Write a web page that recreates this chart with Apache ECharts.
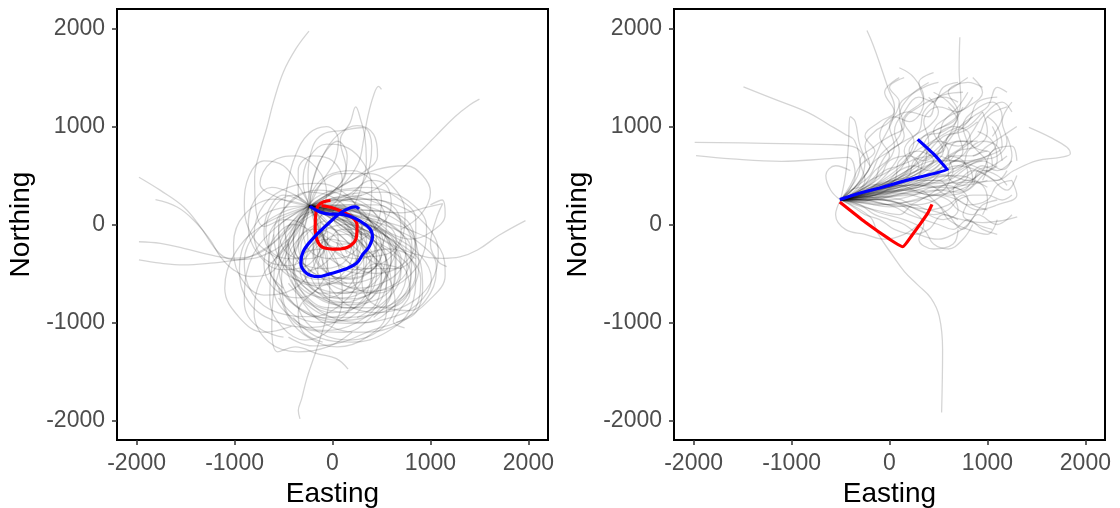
<!DOCTYPE html>
<html><head><meta charset="utf-8">
<script src="https://cdn.jsdelivr.net/npm/echarts@6/dist/echarts.min.js"></script>
<style>html,body{margin:0;padding:0;background:#fff}#c{width:1120px;height:508px}</style>
</head><body><div id="c"></div>
<script>
// ---------- data ----------
const tickValues = [-2000, -1000, 0, 1000, 2000];
const axisMin = -2200, axisMax = 2200;
const xTitle = 'Easting', yTitle = 'Northing';

// Left panel: grey tracks (Easting, Northing)
const leftTracks = [
 [[-230,190],[100,90],[400,-20],[620,-200],[700,-480],[560,-760],[250,-900],[-100,-860],[-380,-650],[-480,-350],[-380,-60],[-150,120],[150,160]],
 [[-230,190],[150,110],[450,0],[650,-250],[640,-560],[420,-780],[80,-820],[-240,-680],[-400,-400],[-330,-120],[-80,40]],
 [[-230,190],[-520,120],[-780,-80],[-900,-380],[-820,-700],[-560,-900],[-220,-940],[80,-820],[250,-560],[260,-260],[120,-20]],
 [[-230,190],[-120,420],[20,640],[60,860],[-60,1000],[-240,930],[-380,700],[-460,400],[-500,80],[-440,-240],[-280,-460]],
 [[-230,190],[180,310],[520,330],[800,220],[960,-20],[920,-320],[720,-580],[420,-680],[120,-620],[-80,-420],[-140,-160],[20,60]],
 [[-230,190],[-300,-90],[-400,-400],[-290,-720],[20,-960],[320,-1000],[620,-840],[800,-540],[810,-210],[660,80],[400,240],[110,300]],
 [[-230,190],[40,360],[300,520],[460,700],[420,920],[250,1010],[60,920],[-100,700],[-200,440],[-260,200]],
 [[-230,190],[-600,260],[-900,100],[-1010,-200],[-950,-520],[-700,-720],[-400,-660],[-200,-440],[-110,-190],[-40,20]],
 [[-230,190],[200,60],[600,-110],[900,-320],[1010,-560],[860,-820],[560,-960],[200,-1010],[-150,-960],[-420,-800],[-600,-560]],
 [[-230,190],[-480,80],[-700,-20],[-790,250],[-795,480],[-740,750],[-670,990],[-600,1260],[-500,1560],[-370,1800],[-240,1975]],
 [[-230,190],[0,330],[140,560],[80,860],[180,1040],[237,1200],[290,1060],[330,900],[346,650],[300,400],[200,150]],
 [[-230,190],[80,380],[260,620],[320,880],[360,1100],[420,1320],[470,1410],[500,1380]],
 [[-230,190],[100,240],[400,340],[620,500],[850,700],[1050,900],[1250,1100],[1400,1220],[1500,1280]],
 [[-230,190],[100,60],[420,-100],[700,-250],[950,-330],[1120,-345],[1300,-330],[1480,-260],[1700,-110],[1970,40]],
 [[-230,190],[-420,20],[-600,-180],[-841,-328],[-976,-362],[-1112,-328],[-1214,-226],[-1349,-24],[-1519,179],[-1756,348],[-1976,483]],
 [[-230,190],[-400,-80],[-637,-497],[-841,-531],[-1010,-463],[-1146,-328],[-1247,-159],[-1417,44],[-1587,179],[-1807,253]],
 [[-230,190],[-500,-100],[-841,-328],[-1044,-345],[-1247,-311],[-1519,-243],[-1756,-193],[-1976,-176]],
 [[-230,190],[-450,-150],[-739,-328],[-976,-362],[-1247,-395],[-1519,-412],[-1756,-395],[-1976,-362]],
 [[-230,190],[-100,-200],[-27,-700],[-61,-936],[-129,-1173],[-197,-1376],[-264,-1578],[-315,-1781],[-349,-1900],[-332,-1984]],
 [[-230,190],[-450,-250],[-600,-700],[-620,-1050],[-560,-1300],[-380,-1250],[-150,-1320],[40,-1370],[159,-1477]],
 [[-230,190],[300,-100],[700,-400],[790,-700],[690,-870],[620,-990],[736,-1055]],
 [[-230,190],[300,150],[700,120],[980,180],[1125,213],[1060,60],[1000,-200],[1080,-380],[1166,-429]],
 [[-230,190],[-50,200],[250,120],[500,-60],[600,-350],[480,-640],[180,-760],[-140,-700],[-330,-480],[-320,-200],[-150,0]],
 [[-230,190],[-380,0],[-560,-300],[-600,-650],[-420,-950],[-100,-1080],[250,-1000],[500,-760],[560,-440],[420,-160],[150,-20]],
 [[-230,190],[200,200],[560,100],[820,-120],[880,-450],[720,-760],[420,-920],[60,-950],[-260,-820],[-420,-560]],
 [[-230,190],[-150,380],[80,520],[380,520],[620,380],[740,120],[700,-180],[500,-400],[220,-460],[-40,-340]],
 [[-230,190],[-420,320],[-620,380],[-800,240],[-860,-20],[-760,-300],[-520,-460],[-260,-420],[-100,-220]],
 [[-230,190],[20,-60],[300,-300],[560,-520],[640,-820],[480,-1080],[180,-1180],[-140,-1100],[-340,-880],[-380,-600]],
 [[-230,190],[-100,-120],[60,-420],[100,-760],[-20,-1060],[-280,-1180],[-520,-1040],[-640,-760],[-620,-440],[-460,-200]],
 [[-230,190],[250,80],[620,-40],[900,-200],[1060,-420],[1000,-700],[780,-880],[560,-860]],
 [[-230,190],[-300,420],[-240,680],[-60,820],[160,780],[320,620],[400,380],[380,120],[240,-100]],
 [[-230,190],[-520,260],[-740,420],[-620,640],[-380,700],[-150,560],[-60,320],[-120,80]],
 [[-230,190],[150,150],[480,140],[760,40],[840,-200],[700,-420],[440,-500],[180,-400],[40,-180]],
 [[-230,190],[-350,-200],[-520,-520],[-480,-860],[-220,-1080],[120,-1100],[420,-920],[620,-640],[640,-320],[480,-60]],
 [[-230,190],[100,100],[300,-150],[320,-480],[150,-700],[-120,-700],[-280,-500],[-240,-250],[-60,-80]],
 [[-230,190],[400,60],[800,-60],[1100,-250],[1150,-520],[980,-780],[700,-980],[400,-1080],[100,-1200],[-200,-1240],[-450,-1150]],
 [[-230,190],[-700,0],[-1000,-300],[-1100,-650],[-950,-950],[-700,-1100],[-420,-1040]],
 [[-230,190],[-250,500],[-200,800],[-95,923],[100,960],[312,990],[400,800],[350,500],[200,300]],
 [[-230,190],[100,400],[450,560],[750,600],[920,500],[1000,330],[900,100],[700,-50]],
 [[-230,190],[-600,-50],[-850,-400],[-900,-800],[-760,-1050],[-500,-1150]],
 [[-230,190],[50,20],[350,-200],[450,-500],[300,-800],[0,-900],[-250,-800],[-450,-600]],
 [[-230,190],[-100,0],[150,-100],[350,-300],[400,-600],[250,-900],[-50,-1000],[-350,-950],[-550,-750]],
 [[-230,190],[-80,60],[60,-150],[-60,-380],[-300,-480],[-520,-380],[-600,-100],[-480,180],[-250,330],[0,280],[200,100],[300,-150],[220,-420]],
 [[-230,190],[120,180],[380,40],[520,-200],[420,-450],[180,-560],[-80,-480],[-200,-260],[-80,-60],[160,0],[380,-120],[560,-380],[600,-700],[420,-950]],
 [[-230,190],[-120,20],[-200,-250],[-450,-420],[-700,-350],[-800,-100],[-700,200],[-450,380],[-150,420],[150,300],[300,80]],
 [[-230,190],[250,260],[650,200],[950,0],[1080,-280],[1000,-600],[760,-820],[450,-900],[150,-820],[-60,-600]],
 [[-230,190],[-30,100],[200,-60],[250,-330],[100,-560],[-200,-620],[-450,-500],[-550,-260],[-420,20]],
 [[-230,190],[80,170],[350,80],[600,-100],[760,-380],[700,-700],[450,-900],[100,-980],[-250,-900],[-500,-700],[-650,-400],[-600,-100]],
 [[-230,190],[-400,300],[-580,200],[-680,-50],[-600,-350],[-380,-560],[-80,-600],[150,-450],[220,-200],[100,50]],
 [[-230,190],[60,260],[380,260],[650,150],[700,-100],[560,-300],[300,-330],[60,-200]],
 [[-230,190],[-100,120],[100,-20],[350,-250],[550,-550],[550,-900],[350,-1150],[50,-1250],[-250,-1150],[-450,-950],[-550,-650]],
 [[-230,190],[-350,100],[-480,-120],[-420,-400],[-150,-560],[150,-540],[380,-380],[450,-120],[300,120],[50,200]],
 [[-230,190],[200,100],[500,-80],[750,-300],[900,-550],[850,-850],[600,-1050],[250,-1100],[-100,-1000],[-300,-800]],
 [[-230,190],[-600,150],[-850,-100],[-950,-450],[-850,-800],[-550,-1000],[-200,-1050],[100,-950],[250,-700]],
 [[-230,190],[-50,300],[200,350],[450,250],[550,0],[480,-250],[250,-350],[0,-250],[-120,-50]],
 [[-230,190],[100,120],[300,0],[250,-250],[0,-350],[-250,-250],[-300,0],[-150,200],[100,280],[350,200],[500,0]],
 [[-230,190],[-150,-50],[50,-300],[350,-450],[650,-450],[850,-250],[850,50],[650,280],[350,380],[50,350]],
 [[-230,190],[-350,400],[-500,600],[-700,650],[-850,500],[-900,200],[-800,-150],[-550,-350]],
 [[-230,190],[300,0],[650,-200],[850,-500],[800,-850],[550,-1100],[200,-1200],[-150,-1150],[-400,-950]],
 [[-230,190],[-400,-150],[-700,-500],[-800,-900],[-650,-1200],[-350,-1300],[-50,-1250],[200,-1100]],
 [[-230,190],[150,80],[500,-50],[800,-150],[1000,-80],[1150,100],[1120,250],[1000,200]],
 [[-230,190],[-200,450],[-100,700],[50,850],[150,700],[100,450],[-50,300]],
 [[-230,190],[0,130],[300,30],[550,-120],[780,-260],[900,-400],[920,-650],[850,-900],[650,-1000]],
 [[-230,190],[-50,150],[150,50],[250,-100],[150,-250],[-50,-200],[-100,-50],[50,50],[250,0],[400,-150],[450,-400],[350,-650],[100,-750],[-150,-650],[-250,-450]],
 [[-230,190],[0,80],[200,-100],[150,-350],[-100,-450],[-350,-350],[-400,-100],[-250,100],[0,150],[200,0],[350,-250],[300,-550],[50,-700]],
 [[-230,190],[200,150],[450,-50],[500,-300],[350,-500],[100,-550],[-100,-400],[-50,-150],[150,-100],[350,-250],[500,-500],[450,-800],[250,-950]],
 [[-230,190],[-300,50],[-350,-200],[-250,-450],[0,-550],[250,-450],[350,-200],[250,50],[50,150],[-150,50],[-200,-200],[-100,-450],[150,-600]],
 [[-230,190],[50,250],[300,200],[500,50],[650,-150],[600,-400],[400,-550],[150,-600],[-100,-550],[-300,-400],[-400,-200],[-350,50],[-200,250],[0,350]],
 [[-230,190],[-500,300],[-650,150],[-700,-100],[-600,-300],[-400,-350],[-250,-200],[-300,0],[-500,50],[-650,-150],[-650,-450],[-500,-650]],
 [[-230,190],[100,50],[400,-150],[650,-300],[800,-500],[750,-750],[550,-850],[350,-750],[300,-550],[450,-400],[700,-450]],
 [[-230,190],[-100,-100],[-50,-400],[-150,-650],[-350,-750],[-600,-650],[-700,-400],[-600,-150],[-400,0],[-200,-100],[-150,-350]],
 [[-230,190],[150,300],[400,450],[550,400],[600,200],[500,0],[300,-100],[100,-50],[0,100],[100,250],[300,300]],
 [[-230,190],[50,150],[350,100],[600,0],[750,-200],[700,-450],[500,-600],[250,-650],[0,-600],[-200,-700],[-350,-900],[-300,-1100],[-100,-1200]],
 [[-230,190],[-400,100],[-550,-50],[-550,-300],[-400,-500],[-150,-650],[100,-700],[350,-650],[500,-500],[550,-300]],
 [[-230,190],[0,100],[250,-50],[450,-250],[500,-500],[400,-750],[200,-850],[-50,-850],[-300,-700],[-400,-500],[-300,-300],[-100,-250]],
 [[-230,190],[200,0],[500,-150],[700,-350],[650,-600],[450,-700],[250,-650],[200,-450],[350,-300],[600,-250],[850,-350]],
 [[-230,190],[-150,0],[-50,-250],[100,-450],[300,-500],[450,-400],[450,-200],[300,-50],[100,-50],[-50,-200],[-150,-450],[-100,-700],[100,-850]],
 [[-230,190],[-350,300],[-350,550],[-200,700],[0,650],[100,450],[50,250],[-100,150],[-300,100],[-450,-50]],
 [[-230,190],[-100,50],[50,-80],[200,-250],[250,-450],[150,-650],[-50,-750],[-250,-700],[-400,-550],[-450,-350],[-350,-150],[-200,-50],[0,-100],[150,-300]],
 [[-230,190],[50,120],[300,0],[500,-200],[550,-450],[450,-700],[250,-800],[0,-780],[-200,-650],[-300,-450],[-250,-250],[-50,-150],[200,-200]],
 [[-230,190],[-150,80],[-50,-100],[-100,-300],[-300,-350],[-500,-250],[-550,0],[-400,250],[-150,350],[100,300],[300,150],[400,-50],[350,-300]],
 [[-230,190],[100,150],[400,100],[650,-50],[800,-250],[750,-500],[550,-650],[300,-700],[50,-650],[-150,-500],[-200,-300],[-50,-150]],
 [[-230,190],[-350,50],[-450,-200],[-400,-500],[-200,-700],[50,-800],[300,-750],[500,-600],[600,-350],[550,-100],[350,50]],
 [[-230,190],[0,50],[250,-150],[400,-400],[350,-700],[150,-900],[-100,-950],[-350,-850],[-500,-650],[-550,-400],[-450,-150]],
 [[-230,190],[-200,350],[-50,500],[200,550],[400,450],[500,250],[450,0],[300,-150],[100,-200],[-100,-100]],
 [[-230,190],[150,200],[450,200],[700,50],[850,-200],[850,-500],[700,-750],[450,-850],[150,-850],[-100,-750]]
];
const leftRed = [[-20,245],[-90,232],[-147,193],[-170,112],[-177,-24],[-157,-159],[-96,-234],[41,-251],[176,-220],[245,-126],[251,-7],[204,71],[108,128],[-10,173],[-112,193]];
const leftBlue = [[-231,186],[-129,128],[-28,105],[74,105],[176,84],[278,37],[380,-41],[408,-126],[373,-227],[312,-302],[245,-396],[125,-457],[-28,-504],[-147,-532],[-265,-497],[-323,-396],[-300,-278],[-198,-142],[-61,-7],[74,112],[176,169],[238,179],[271,158]];

// Right panel: grey tracks
const rightTracks = [
 [[-500,250],[-300,450],[-250,650],[-322,771],[-424,805],[-589,815],[-1267,829],[-1989,839]],
 [[-500,250],[-350,500],[-424,686],[-660,669],[-1101,645],[-1609,669],[-1975,703]],
 [[-500,250],[-300,600],[-356,855],[-457,923],[-627,1024],[-830,1143],[-1169,1278],[-1491,1404]],
 [[-500,250],[-250,500],[-100,800],[51,1195],[-17,1398],[-85,1601],[-169,1838],[-230,1980]],
 [[-500,250],[0,450],[400,700],[600,900],[694,1094],[728,1263],[711,1600],[718,1912]],
 [[-500,250],[-200,80],[-119,-91],[17,-295],[152,-481],[288,-616],[423,-751],[508,-938],[542,-1276],[532,-1919]],
 [[-500,250],[0,380],[500,420],[1101,450],[1270,551],[1507,653],[1745,686],[1846,721],[1812,788],[1643,889],[1423,991]],
 [[-500,250],[0,200],[400,150],[700,60],[950,20],[1150,40],[1304,77]],
 [[-500,250],[-200,330],[100,420],[400,520],[650,640],[800,800],[750,1000],[850,1150],[1050,1250],[1150,1100],[1050,900]],
 [[-500,250],[-250,280],[50,330],[300,380],[550,470],[700,600],[950,650],[1150,560],[1250,700],[1200,900]],
 [[-500,250],[-300,350],[-150,550],[0,700],[-100,900],[50,1100],[200,1050],[350,1250],[300,1450],[450,1550]],
 [[-500,250],[-200,260],[100,220],[350,120],[550,50],[700,150],[650,350],[800,450],[1000,380]],
 [[-500,250],[-350,330],[-200,450],[-50,520],[150,650],[250,850],[150,1050],[300,1200],[550,1300],[700,1250]],
 [[-500,250],[-280,300],[0,380],[250,450],[500,450],[650,300],[800,200],[1000,250],[1100,400],[1250,450]],
 [[-500,250],[-300,200],[-100,120],[150,50],[350,-50],[450,-200],[600,-250],[750,-150],[850,0]],
 [[-500,250],[-250,350],[0,500],[200,680],[350,900],[550,1000],[700,1150],[600,1350],[800,1450],[950,1400]],
 [[-500,250],[-150,300],[150,400],[400,400],[600,300],[800,350],[950,500],[1100,650],[1050,850],[900,950]],
 [[-500,250],[-400,400],[-300,600],[-150,750],[-250,900],[-100,1050],[50,1150],[-50,1350],[100,1500]],
 [[-500,250],[-200,250],[50,300],[300,350],[450,250],[600,100],[750,-50],[900,100],[1100,0],[1250,100]],
 [[-500,250],[-300,300],[-50,400],[200,550],[350,750],[500,850],[700,800],[900,900],[1000,1100],[1200,1200]],
 [[-500,250],[-250,220],[0,180],[200,200],[400,300],[550,400],[700,450],[850,550],[1000,500],[1200,350],[1300,500]],
 [[-500,250],[-350,280],[-150,350],[50,450],[100,650],[300,750],[450,700],[600,850],[700,1050],[600,1200]],
 [[-500,250],[-200,340],[50,450],[250,500],[450,650],[550,800],[750,850],[900,750],[1000,600],[950,450]],
 [[-500,250],[-300,250],[-50,250],[200,150],[350,0],[300,-150],[450,-250],[650,-200],[700,-50]],
 [[-500,250],[-400,350],[-250,400],[-100,550],[50,800],[0,1000],[200,1150],[400,1100],[500,1300],[750,1350]],
 [[-500,250],[-250,300],[0,350],[300,450],[600,500],[800,450],[950,550],[1050,750],[1250,800],[1300,650]],
 [[-500,250],[-300,230],[-100,280],[100,320],[300,280],[500,200],[600,50],[800,-50],[1000,-100],[1100,50]],
 [[-500,250],[-350,380],[-200,500],[-100,700],[100,900],[150,1100],[350,1300],[250,1500],[100,1600]],
 [[-500,250],[-200,300],[100,380],[350,500],[500,550],[650,700],[850,700],[1000,800],[1150,900],[1300,1000]],
 [[-500,250],[-300,320],[-100,400],[150,500],[350,600],[400,800],[600,950],[800,1050],[900,1250],[1100,1300]],
 [[-500,250],[-250,260],[0,250],[250,300],[450,380],[650,380],[800,250],[750,100],[900,0],[1050,-50]],
 [[-500,250],[-150,330],[150,450],[400,600],[550,750],[450,950],[600,1100],[800,1200],[950,1350],[850,1500]],
 [[-500,250],[-350,200],[-150,150],[100,100],[250,200],[400,150],[600,200],[750,300],[850,200],[1000,150]],
 [[-500,250],[-400,300],[-250,450],[-300,650],[-150,800],[0,900],[150,1000],[100,1200],[250,1350],[400,1450]],
 [[-500,250],[-200,320],[50,420],[300,560],[550,650],[800,650],[1000,700],[1150,800],[1100,1000],[1000,1100]],
 [[-500,250],[-300,280],[-80,300],[150,350],[400,420],[550,550],[700,600],[900,550],[1100,450],[1200,550]],
 [[-500,250],[-400,200],[-250,100],[-100,50],[50,-50],[250,-100],[400,-50],[550,100],[700,50]],
 [[-500,250],[-250,380],[-50,550],[100,600],[300,700],[400,850],[350,1050],[500,1200],[700,1150],[850,1300]],
 [[-500,250],[-150,280],[200,300],[500,350],[750,400],[900,500],[1050,600],[1000,750],[850,700]],
 [[-500,250],[-300,350],[-100,480],[0,650],[200,700],[350,650],[500,750],[650,950],[800,1000],[950,1150]],
 [[-500,250],[-250,250],[0,200],[250,250],[500,300],[700,250],[900,150],[1100,200],[1300,300],[1250,450]],
 [[-500,250],[-350,300],[-200,400],[-50,420],[100,550],[250,600],[400,550],[550,650],[700,750],[850,850]],
 [[-500,250],[-300,260],[-100,320],[100,400],[250,350],[400,300],[550,350],[650,500],[800,600],[950,650]],
 [[-500,250],[-550,100],[-450,-50],[-250,-100],[-50,-150],[150,-100],[300,0]],
 [[-500,250],[-600,350],[-650,500],[-550,600],[-400,550]],
 [[-500,250],[-200,300],[150,350],[450,300],[700,350],[850,450],[800,600],[650,650],[600,500],[750,400],[1000,450]],
 [[-500,250],[-300,330],[-100,420],[150,480],[300,600],[200,750],[350,900],[550,950],[700,1100],[600,1250],[450,1350]],
 [[-500,250],[-200,290],[100,350],[350,420],[600,450],[750,550],[900,650],[1100,700],[1200,850],[1150,1050],[1250,1250]],
 [[-500,250],[-250,300],[0,380],[200,450],[350,500],[500,600],[600,750],[500,900],[650,1000],[800,950],[850,800],[1000,750]],
 [[-500,250],[-300,280],[-100,330],[100,380],[300,430],[450,500],[600,520],[750,600],[800,750],[950,850],[1100,800],[1150,650]],
 [[-500,250],[-350,270],[-150,300],[50,350],[250,380],[400,450],[550,450],[650,550],[600,700],[700,850],[900,850]],
 [[-500,250],[-300,300],[-100,360],[150,420],[300,500],[350,650],[500,700],[650,650],[750,750],[700,950],[850,1100]],
 [[-500,250],[-250,260],[0,290],[200,330],[400,380],[600,400],[750,350],[850,450],[950,550],[1100,500],[1200,400]],
 [[-500,250],[-350,320],[-200,380],[0,420],[200,480],[350,550],[450,650],[350,800],[450,950],[650,1050],[750,1200]],
 [[-500,250],[-300,250],[-100,260],[100,300],[300,330],[500,350],[700,330],[850,400],[900,550],[1050,600],[1200,700]],
 [[-500,250],[-320,300],[-150,350],[50,400],[200,500],[250,650],[400,700],[550,750],[600,900],[750,950],[900,1050]],
 [[-500,250],[-280,280],[-50,320],[150,350],[350,400],[500,480],[650,500],[800,480],[950,400],[1000,250],[950,100]],
 [[-500,250],[-350,300],[-200,350],[-50,400],[100,480],[200,600],[150,750],[250,900],[400,1000],[500,1150],[400,1300]],
 [[-500,250],[-300,220],[-100,200],[100,220],[300,250],[450,300],[600,250],[700,150],[850,100],[950,200],[1100,250]],
 [[-500,250],[-250,340],[0,420],[150,500],[300,600],[450,650],[600,650],[700,750],[900,800],[1000,950],[950,1150]],
 [[-500,250],[-300,260],[-100,280],[100,260],[250,200],[400,220],[550,300],[700,400],[800,500],[750,650],[600,700]],
 [[-500,250],[-350,260],[-150,280],[0,320],[150,380],[300,450],[450,520],[550,600],[700,650],[850,600],[1000,550],[1100,600]],
 [[-500,250],[-300,350],[-150,450],[-100,600],[0,750],[150,850],[300,950],[350,1150],[500,1300],[650,1400],[800,1500]],
 [[-500,250],[-300,200],[-150,100],[0,50],[150,0],[300,-100],[500,-150],[650,-100],[800,0],[900,150]],
 [[-500,250],[-250,280],[-50,250],[150,200],[300,150],[450,100],[600,150],[700,250],[850,300],[1000,300],[1150,250],[1250,300]],
 [[-500,250],[-350,290],[-200,320],[0,360],[200,400],[400,460],[550,550],[700,580],[850,650],[1000,700],[1100,850],[1050,1000]],
 [[-500,250],[-450,500],[-420,800],[-400,1100],[-350,1050],[-300,800],[-200,600]],
 [[-500,250],[-300,300],[-150,400],[0,550],[100,750],[50,950],[150,1150],[300,1300],[450,1250],[550,1400],[700,1450]],
 [[-500,250],[-350,350],[-250,500],[-150,650],[0,750],[150,900],[100,1100],[200,1300],[350,1400],[500,1450]],
 [[-500,250],[-250,330],[0,450],[250,600],[400,750],[550,900],[700,950],[850,1100],[1000,1200],[1100,1400],[1200,1350]],
 [[-500,250],[-300,320],[-100,420],[100,550],[200,700],[350,800],[500,900],[550,1050],[700,1200],[800,1350]],
 [[-500,250],[-400,330],[-300,450],[-200,600],[-250,800],[-150,950],[0,1050],[100,1250],[0,1400],[150,1500]],
 [[-500,250],[-200,310],[100,400],[300,500],[450,600],[600,700],[750,800],[850,950],[950,1100],[1150,1250],[1250,1150]],
 [[-500,250],[-350,250],[-150,230],[50,180],[200,100],[350,50],[500,0],[650,-50],[800,50],[950,-50],[1100,-100]],
 [[-500,250],[-300,290],[-100,330],[100,350],[300,400],[450,380],[600,420],[800,500],[950,600],[1100,550],[1250,650]]
];
const rightRed = [[-508,229],[-250,25],[0,-150],[135,-227],[230,-110],[305,-7],[389,113],[434,206]];
const rightBlue = [[-508,254],[-300,322],[-102,372],[100,430],[237,467],[592,558],[450,720],[288,869]];

// ---------- chart ----------
const FONT = '"Liberation Sans", Arial, sans-serif';
const chart = echarts.init(document.getElementById('c'), null, {renderer: 'canvas'});
const grids = [
  {left: 117, top: 9, width: 431, height: 431},
  {left: 674, top: 9, width: 431, height: 431}
];
function axisCommon(isX, gi) {
  return {
    type: 'value', gridIndex: gi, min: axisMin, max: axisMax,
    name: isX ? xTitle : yTitle, nameLocation: 'middle',
    nameGap: isX ? 37 : 82,
    nameTextStyle: {fontFamily: FONT, fontSize: 28, color: '#000'},
    axisLine: {show: true, onZero: false, lineStyle: {color: '#000', width: 2}},
    axisTick: {show: true, length: 5, customValues: tickValues, lineStyle: {color: '#333', width: 1.5}},
    axisLabel: {show: true, customValues: tickValues, formatter: v => String(v),
      fontFamily: FONT, fontSize: 23, color: '#4d4d4d', margin: 12},
    splitLine: {show: false}
  };
}
const series = [];
function addTracks(tracks, gi) {
  tracks.forEach(t => series.push({
    type: 'line', xAxisIndex: gi, yAxisIndex: gi, data: t, smooth: 0.4,
    showSymbol: false, silent: true,
    lineStyle: {color: 'rgba(0,0,0,0.17)', width: 1.3}
  }));
}
function addMain(data, gi, color, smooth) {
  series.push({type: 'line', xAxisIndex: gi, yAxisIndex: gi, data: data, smooth: smooth,
    showSymbol: false, silent: true, z: 5, lineStyle: {color: color, width: 3.2}});
}
addTracks(leftTracks, 0);
addTracks(rightTracks, 1);
addMain(leftRed, 0, '#ff0000', 0.4);
addMain(leftBlue, 0, '#0000ff', 0.4);
addMain(rightRed, 1, '#ff0000', 0.15);
addMain(rightBlue, 1, '#0000ff', 0.05);

chart.setOption({
  animation: false,
  grid: grids.map(g => Object.assign({show: true, borderColor: '#000', borderWidth: 2,
    backgroundColor: 'transparent', containLabel: false, outerBoundsMode: 'none'}, g)),
  xAxis: [axisCommon(true, 0), axisCommon(true, 1)],
  yAxis: [axisCommon(false, 0), axisCommon(false, 1)],
  series: series
});
</script></body></html>
